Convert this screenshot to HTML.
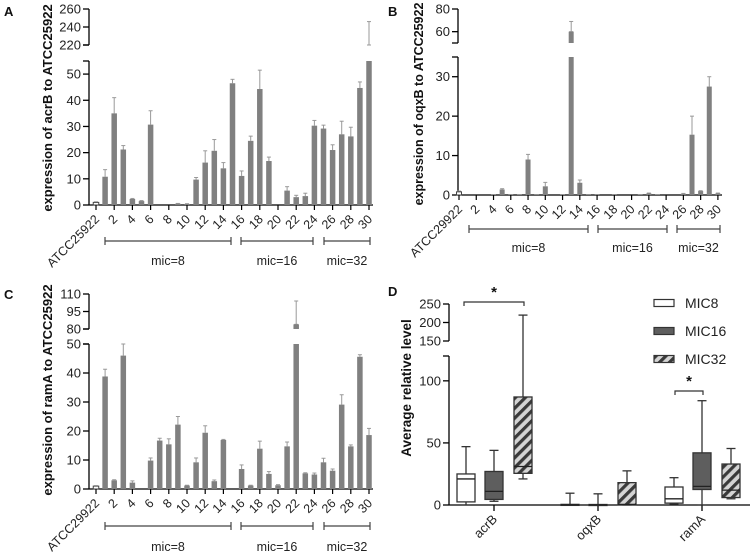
<!DOCTYPE html>
<html><head><meta charset="utf-8">
<style>
html,body{margin:0;padding:0;background:#fff;}
svg{display:block;font-family:"Liberation Sans",Arial,sans-serif;}
</style></head>
<body>
<svg id="fig" width="754" height="557" viewBox="0 0 754 557" xmlns="http://www.w3.org/2000/svg">
<defs>
<pattern id="hatch" patternUnits="userSpaceOnUse" width="7" height="7" patternTransform="rotate(45)">
<rect width="7" height="7" fill="#d4d4d4"/>
<rect width="3.2" height="7" fill="#3a3a3a"/>
</pattern>
</defs>
</svg>
<script>
// ---------- Panel A data (acrB) ----------
const catsA = ["ATCC25922","1","2","3","4","5","6","7","8","9","10","11","12","13","14","15","16","17","18","19","20","21","22","23","24","25","26","27","28","29","30"];
const valsA = [1,10.8,35,21.2,2.3,1.5,30.7,0,0,0.5,0.4,9.7,16.2,20.7,14,46.5,11.1,24.5,44.3,16.8,0,5.5,3,3.4,30.3,29.2,21,27,26.2,44.7,220];
const errA  = [1.2,13.5,41,22.7,2.5,1.7,36,0,0,0.6,0.5,10.5,20.7,25,16.2,48,13,26.3,51.5,18.3,0,7,3.7,4.5,32.3,30.5,23,32,29.7,47,246];
const lowTicksA = [0,10,20,30,40,50];
const upTicksA = [220,240,260];
// ---------- Panel B data (oqxB) ----------
const catsB = ["ATCC29922","1","2","3","4","5","6","7","8","9","10","11","12","13","14","15","16","17","18","19","20","21","22","23","24","25","26","27","28","29","30"];
const valsB = [0.8,0,0,0,0.1,1.4,0.1,0.1,9,0.2,2.2,0,0.1,60,3.1,0.2,0.2,0,0.2,0,0,0.1,0.4,0.1,0,0,0.3,15.3,1,27.5,0.4];
const errB  = [1,0,0,0,0.1,1.6,0.1,0.1,10.3,0.2,3.2,0,0.1,69,3.8,0.2,0.2,0,0.2,0,0,0.1,0.5,0.1,0,0,0.4,20,1.1,30,0.5];
const lowTicksB = [0,10,20,30];
const upTicksB = [60,80];
// ---------- Panel C data (ramA) ----------
const catsC = catsB;
const valsC = [1,38.8,3,46,2.2,0,9.8,16.7,15.4,22.2,1.2,9.2,19.4,2.7,16.9,0,6.9,1.2,13.9,5.2,1.3,14.7,84,5.4,5,9.2,6.3,29.1,14.7,45.6,18.6];
const errC  = [1.1,41.3,3.2,50,2.8,0,10.7,17.5,17.3,25,1.3,10.7,21.8,3.1,17.1,0,8.3,1.3,16.5,6,1.5,16.2,104,5.6,5.5,10.6,6.9,32.5,15.2,46.3,20.9];
const lowTicksC = [0,10,20,30,40,50];
const upTicksC = [80,95,110];
// ---------- Panel D data (boxplots) ----------
const genesD = ["acrB","oqxB","ramA"];
const groupsD = ["MIC8","MIC16","MIC32"];
const minD = [[0,3,21],[0,0,0],[1,0,5]];
const q1D  = [[2.5,4.5,25.5],[0,0,0.3],[1.5,12.5,6]];
const medD = [[21,11,31],[0.2,0.1,0.5],[5,15,12]];
const q3D  = [[25,27,87],[0.5,0.4,18],[14.5,42,33]];
const maxD = [[47,44,220],[9.5,9,27.5],[22,84,45.5]];
const lowTicksD = [0,50,100];
const upTicksD = [150,200,250];

const NS="http://www.w3.org/2000/svg";
const svg=document.getElementById('fig');
function mk(tag,attrs,parent){const e=document.createElementNS(NS,tag);for(const k in attrs)e.setAttribute(k,attrs[k]);(parent||svg).appendChild(e);return e;}
function makeScale(lo,up){
  return function(v){
    if(v<=lo.v1) return lo.y0+(v-lo.v0)*(lo.y1-lo.y0)/(lo.v1-lo.v0);
    if(v>=up.v0) return up.y0+(v-up.v0)*(up.y1-up.y0)/(up.v1-up.v0);
    return lo.y1;
  };
}

function barPanel(cfg){
  const g=mk('g',{});
  
  
  const y=makeScale(cfg.lo,cfg.up);
  const xOf=i=>cfg.x0+i*cfg.dx;
  let a=mk('line',{x1:cfg.ax,x2:cfg.ax,y1:cfg.lo.y0,y2:cfg.lo.y1,stroke:'#000','stroke-width':1.3},g);
  
  
  a=mk('line',{x1:cfg.ax,x2:cfg.ax,y1:cfg.up.y0,y2:cfg.up.y1,stroke:'#000','stroke-width':1.3},g);
  
  
  mk('line',{x1:cfg.ax-6,x2:cfg.ax,y1:cfg.lo.y1,y2:cfg.lo.y1,stroke:'#000','stroke-width':1.3},g);
  mk('line',{x1:cfg.ax-6,x2:cfg.ax,y1:cfg.up.y0,y2:cfg.up.y0,stroke:'#000','stroke-width':1.3},g);
  const xa=mk('line',{x1:cfg.ax,x2:cfg.axEnd,y1:cfg.lo.y0,y2:cfg.lo.y0,stroke:'#000','stroke-width':1.3},g);
  
  
  cfg.lowTicks.concat(cfg.upTicks).forEach(t=>{
    const yy=y(t);
    mk('line',{x1:cfg.ax-6,x2:cfg.ax,y1:yy,y2:yy,stroke:'#000','stroke-width':1.3},g);
    const tx=mk('text',{x:cfg.ax-8,y:yy+4.5,'text-anchor':'end','font-size':13,fill:'#222'},g);
    
    
    tx.textContent=t;
  });
  cfg.vals.forEach((v,i)=>{
    const cx=xOf(i), w=cfg.bw;
    const e=cfg.err[i];
    if(e>v){
      const el=mk('line',{x1:cx,x2:cx,y1:y(v),y2:y(e),stroke:'#999','stroke-width':1},g);
      
      
      mk('line',{x1:cx-2,x2:cx+2,y1:y(e),y2:y(e),stroke:'#999','stroke-width':1},g);
      if(v>cfg.lo.v1) mk('line',{x1:cx-2,x2:cx+2,y1:y(v),y2:y(v),stroke:'#999','stroke-width':1},g);
    }
    const first=(i===0);
    const lowTop=Math.min(v,cfg.lo.v1);
    const r=mk('rect',{x:cx-w/2,y:y(lowTop),width:w,height:Math.max(0,y(0)-y(lowTop)),fill:first?'#fff':'#808080',stroke:first?'#444':'none','stroke-width':first?1:0},g);
    
    
    if(v>cfg.up.v0){
      const r2=mk('rect',{x:cx-w/2,y:y(v),width:w,height:y(cfg.up.v0)-y(v),fill:'#808080'},g);
      
      
    }
  });
  cfg.cats.forEach((c,i)=>{
    if(i%2!==0) return;
    const cx=xOf(i), by=cfg.lo.y0;
    mk('line',{x1:cx,x2:cx,y1:by,y2:by+5,stroke:'#000','stroke-width':1.2},g);
    const tx=mk('text',{x:cx+4,y:by+15,'text-anchor':'end','font-size':12.5,fill:'#222',transform:`rotate(-45 ${cx+4} ${by+15})`},g);
    
    
    tx.textContent=c;
  });
  cfg.brackets.forEach(b=>{
    const l=mk('line',{x1:b[0],x2:b[1],y1:cfg.brY,y2:cfg.brY,stroke:'#444','stroke-width':1.2},g);
    
    
    mk('line',{x1:b[0],x2:b[0],y1:cfg.brY-4,y2:cfg.brY+4,stroke:'#444','stroke-width':1.2},g);
    mk('line',{x1:b[1],x2:b[1],y1:cfg.brY-4,y2:cfg.brY+4,stroke:'#444','stroke-width':1.2},g);
    const t=mk('text',{x:(b[0]+b[1])/2,y:cfg.brLabY,'text-anchor':'middle','font-size':12.5,fill:'#222'},g);
    
    
    t.textContent=b[2];
  });
  const yt=mk('text',{x:cfg.ytX,y:cfg.ytY,'text-anchor':'middle','font-size':cfg.ytSize,'font-weight':'bold',fill:'#111',transform:`rotate(-90 ${cfg.ytX} ${cfg.ytY})`},g);
  
  
  yt.textContent=cfg.ytitle;
  const pl=mk('text',{x:cfg.pl[0],y:cfg.pl[1],'font-size':13,'font-weight':'bold',fill:'#111'},g);
  
  
  pl.textContent=cfg.plText;
}

barPanel({name:'panel-a',cats:catsA,vals:valsA,err:errA,lowTicks:lowTicksA,upTicks:upTicksA,
  ax:89,axEnd:373,lo:{v0:0,v1:55,y0:205,y1:61},up:{v0:220,v1:260,y0:45,y1:9},
  x0:96,dx:9.1,bw:5.5,brY:241,brLabY:265,brackets:[[105,231,'mic=8'],[241,313,'mic=16'],[324,370,'mic=32']],
  ytX:52,ytY:108,ytSize:13,ytitle:'expression of acrB to ATCC25922',pl:[4,16],plText:'A'});
barPanel({name:'panel-b',cats:catsB,vals:valsB,err:errB,lowTicks:lowTicksB,upTicks:upTicksB,
  ax:458,axEnd:722,lo:{v0:0,v1:35,y0:195,y1:57},up:{v0:50,v1:80,y0:43,y1:9},
  x0:459,dx:8.63,bw:5,brY:229,brLabY:252,brackets:[[469,588,'mic=8'],[598,667,'mic=16'],[677,720,'mic=32']],
  ytX:423,ytY:104,ytSize:12.5,ytitle:'expression of oqxB to ATCC25922',pl:[388,16],plText:'B'});
barPanel({name:'panel-c',cats:catsC,vals:valsC,err:errC,lowTicks:lowTicksC,upTicks:upTicksC,
  ax:89,axEnd:373,lo:{v0:0,v1:50,y0:489,y1:344},up:{v0:80,v1:110,y0:329,y1:294},
  x0:96,dx:9.1,bw:5.5,brY:526,brLabY:551,brackets:[[105,231,'mic=8'],[241,313,'mic=16'],[324,370,'mic=32']],
  ytX:52,ytY:390,ytSize:13,ytitle:'expression of ramA to ATCC25922',pl:[4,299],plText:'C'});

(function(){
  const g=mk('g',{});
  
  
  const ax=449, lo={v0:0,v1:120,y0:505,y1:356}, up={v0:150,v1:250,y0:341,y1:304};
  const y=makeScale(lo,up);
  mk('line',{x1:ax,x2:ax,y1:lo.y0,y2:lo.y1,stroke:'#000','stroke-width':1.3},g);
  mk('line',{x1:ax,x2:ax,y1:up.y0,y2:up.y1,stroke:'#000','stroke-width':1.3},g);
  mk('line',{x1:ax-6,x2:ax,y1:lo.y1,y2:lo.y1,stroke:'#000','stroke-width':1.3},g);
  const xa=mk('line',{x1:ax,x2:750,y1:lo.y0,y2:lo.y0,stroke:'#000','stroke-width':1.3},g);
  
  
  lowTicksD.concat(upTicksD).forEach(t=>{
    const yy=y(t);
    mk('line',{x1:ax-6,x2:ax,y1:yy,y2:yy,stroke:'#000','stroke-width':1.3},g);
    const tx=mk('text',{x:ax-8,y:yy+4.5,'text-anchor':'end','font-size':13,fill:'#222'},g);
    
    
    tx.textContent=t;
  });
  const centers=[494,598,702], offs=[-28,0,29], bw=18;
  const fills=['#fff','#5e5e5e','url(#hatch)'];
  genesD.forEach((gn,gi)=>{
    const cx=centers[gi];
    mk('line',{x1:cx,x2:cx,y1:lo.y0,y2:lo.y0+6,stroke:'#000','stroke-width':1.3},g);
    const tx=mk('text',{x:cx+4,y:lo.y0+15,'text-anchor':'end','font-size':13,fill:'#222',transform:`rotate(-45 ${cx+4} ${lo.y0+15})`},g);
    
    
    tx.textContent=gn;
    groupsD.forEach((gr,k)=>{
      const bx=cx+offs[k];
      const wl=mk('line',{x1:bx,x2:bx,y1:y(maxD[gi][k]),y2:y(minD[gi][k]),stroke:'#333','stroke-width':1.3},g);
      
      
      mk('line',{x1:bx-4.5,x2:bx+4.5,y1:y(maxD[gi][k]),y2:y(maxD[gi][k]),stroke:'#333','stroke-width':1.3},g);
      mk('line',{x1:bx-4.5,x2:bx+4.5,y1:y(minD[gi][k]),y2:y(minD[gi][k]),stroke:'#333','stroke-width':1.3},g);
      const top=y(q3D[gi][k]), bot=y(q1D[gi][k]);
      const r=mk('rect',{x:bx-bw/2,y:top,width:bw,height:Math.max(1,bot-top),fill:fills[k],stroke:'#333','stroke-width':1.3},g);
      
      
      const my=y(medD[gi][k]);
      mk('line',{x1:bx-bw/2,x2:bx+bw/2,y1:my,y2:my,stroke:'#222','stroke-width':1.3},g);
    });
  });
  function sig(x1,x2,yy,name){
    const p=mk('path',{d:`M${x1} ${yy+4}V${yy}H${x2}V${yy+4}`,fill:'none',stroke:'#333','stroke-width':1.2},g);
    
    
    const s=mk('text',{x:(x1+x2)/2,y:yy-5,'text-anchor':'middle','font-size':15,'font-weight':'bold',fill:'#111'},g);
    
    
    s.textContent='*';
  }
  sig(464,524,302,'significance-acrB');
  sig(675,703,391,'significance-ramA');
  const lf=['#fff','#5e5e5e','url(#hatch)'];
  const ly=[303,331,359];
  groupsD.forEach((gr,k)=>{
    const r=mk('rect',{x:654,y:ly[k]-3.5,width:20,height:7,fill:lf[k],stroke:'#333','stroke-width':1.2},g);
    
    
    const t=mk('text',{x:685,y:ly[k]+5,'font-size':14,fill:'#222'},g);
    
    
    t.textContent=gr;
  });
  const yt=mk('text',{x:411,y:388,'text-anchor':'middle','font-size':13.5,'font-weight':'bold',fill:'#111',transform:'rotate(-90 411 388)'},g);
  
  
  yt.textContent='Average relative level';
  const pl=mk('text',{x:388,y:296,'font-size':13,'font-weight':'bold',fill:'#111'},g);
  
  
  pl.textContent='D';
})();
</script>
</body></html>
